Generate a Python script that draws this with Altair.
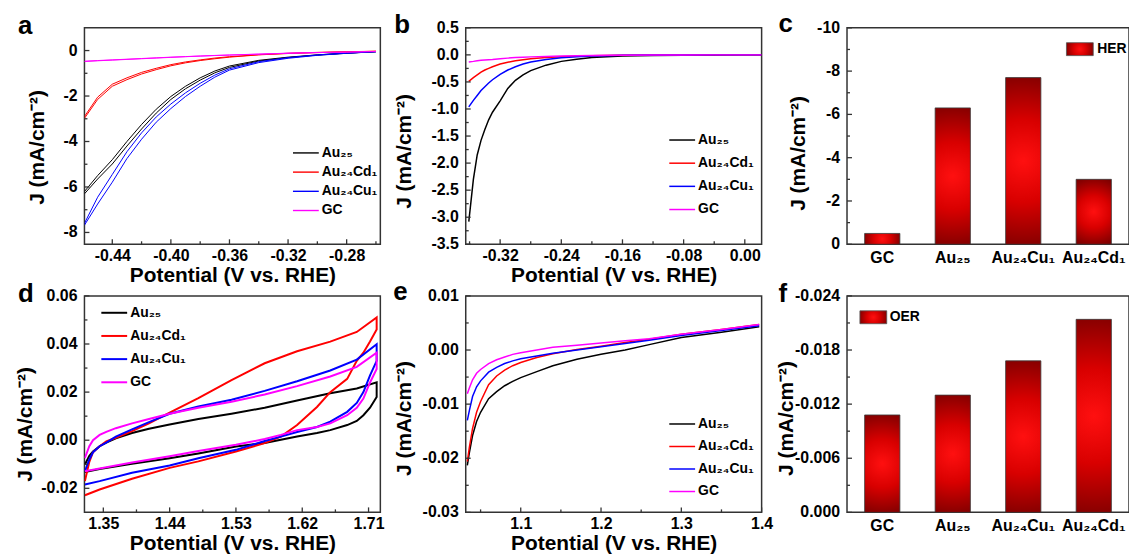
import altair as alt
import pandas as pd

FONT = "Liberation Sans"
FRAME = "#333333"
NAMES = ["Au₂₅", "Au₂₄Cd₁", "Au₂₄Cu₁", "GC"]
COLORS = ["#000000", "#ff0000", "#0000ff", "#ff00ff"]
YTITLE = "J (mA/cm⁻²)"
XTITLE = "Potential (V vs. RHE)"
LETTERS = ["a", "b", "c", "d", "e", "f"]

# ---------------- panel a : HER polarisation (two sweeps each) ----------------
a_x = [-0.459, -0.45, -0.44, -0.43, -0.42, -0.41, -0.40, -0.39, -0.38, -0.37, -0.36, -0.34, -0.32, -0.30, -0.28, -0.26]
a_au25_1 = [-6.3, -5.65, -4.99, -4.2, -3.45, -2.75, -2.15, -1.68, -1.3, -0.98, -0.74, -0.46, -0.31, -0.2, -0.12, -0.05]
a_au25_2 = [-6.2, -5.5, -4.8, -4.0, -3.25, -2.58, -2.02, -1.57, -1.2, -0.9, -0.68, -0.43, -0.29, -0.19, -0.11, -0.05]
a_cd_1 = [-2.98, -2.15, -1.57, -1.28, -1.03, -0.84, -0.67, -0.54, -0.44, -0.36, -0.29, -0.19, -0.13, -0.09, -0.06, -0.03]
a_cd_2 = [-2.9, -2.05, -1.48, -1.2, -0.96, -0.78, -0.62, -0.5, -0.41, -0.33, -0.27, -0.18, -0.12, -0.08, -0.05, -0.03]
a_cu_1 = [-7.68, -6.75, -5.79, -4.75, -3.90, -3.15, -2.55, -2.02, -1.57, -1.17, -0.86, -0.53, -0.34, -0.21, -0.12, -0.05]
a_cu_2 = [-7.6, -6.45, -5.45, -4.45, -3.62, -2.92, -2.35, -1.86, -1.44, -1.08, -0.80, -0.49, -0.31, -0.19, -0.11, -0.05]
a_gc_1 = [-0.48, -0.45, -0.42, -0.39, -0.36, -0.33, -0.30, -0.27, -0.245, -0.22, -0.2, -0.16, -0.12, -0.09, -0.07, -0.04]
a_gc_2 = [-0.47, -0.44, -0.41, -0.38, -0.35, -0.32, -0.29, -0.265, -0.24, -0.215, -0.195, -0.155, -0.115, -0.085, -0.065, -0.04]

# ---------------- panel b : HER LSV ----------------
b_x = [-0.361, -0.355, -0.35, -0.345, -0.34, -0.335, -0.33, -0.32, -0.31, -0.30, -0.29, -0.28,
       -0.26, -0.24, -0.22, -0.20, -0.18, -0.16, -0.12, -0.08, -0.04, 0.0, 0.022]
b_au25 = [-3.08, -2.3, -1.85, -1.58, -1.38, -1.2, -1.06, -0.85, -0.62, -0.47, -0.37, -0.29,
          -0.19, -0.12, -0.08, -0.05, -0.035, -0.02, -0.01, -0.005, -0.002, 0.0, 0.0]
b_cd = [-0.49, -0.42, -0.37, -0.32, -0.28, -0.25, -0.22, -0.17, -0.135, -0.11, -0.09, -0.07,
        -0.05, -0.035, -0.025, -0.018, -0.012, -0.008, -0.004, -0.002, 0.0, 0.0, 0.0]
b_cu = [-0.96, -0.84, -0.75, -0.66, -0.59, -0.52, -0.46, -0.36, -0.28, -0.22, -0.17, -0.13,
        -0.085, -0.055, -0.035, -0.022, -0.014, -0.008, -0.004, -0.002, 0.0, 0.0, 0.0]
b_gc = [-0.13, -0.12, -0.11, -0.10, -0.095, -0.09, -0.085, -0.07, -0.06, -0.05, -0.043, -0.037,
        -0.028, -0.02, -0.015, -0.01, -0.007, -0.005, -0.003, -0.001, 0.0, 0.0, 0.0]

# ---------------- panel c : HER bars ----------------
c_cats = ["GC", "Au₂₅", "Au₂₄Cu₁", "Au₂₄Cd₁"]
c_vals = [-0.5, -6.3, -7.7, -3.0]

# ---------------- panel d : CV loops ----------------
d_xu = [1.325, 1.331, 1.336, 1.345, 1.354, 1.367, 1.389, 1.412, 1.44, 1.479, 1.524, 1.569, 1.613, 1.658, 1.694, 1.721]
d_xl = [1.721, 1.712, 1.703, 1.694, 1.681, 1.658, 1.640, 1.613, 1.591, 1.569, 1.53, 1.479, 1.44, 1.389, 1.345, 1.325]
d_au25_u = [-0.0101, -0.0065, -0.0047, -0.0025, -0.001, 0.0008, 0.003, 0.0048, 0.0065, 0.0088, 0.011, 0.0135, 0.0165, 0.0195, 0.0215, 0.0241]
d_au25_l = [0.018, 0.0135, 0.0104, 0.008, 0.0063, 0.0042, 0.003, 0.0015, 0.0002, -0.0012, -0.0026, -0.0055, -0.0075, -0.0098, -0.012, -0.0132]
d_cd_u = [-0.017, -0.009, -0.005, -0.0025, -0.0005, 0.001, 0.0038, 0.007, 0.0115, 0.0175, 0.025, 0.032, 0.037, 0.041, 0.045, 0.051]
d_cd_l = [0.046, 0.041, 0.0364, 0.033, 0.0255, 0.020, 0.0138, 0.0063, 0.0015, -0.0012, -0.0047, -0.0088, -0.0115, -0.016, -0.0205, -0.0229]
d_cu_u = [-0.0129, -0.008, -0.005, -0.0025, -0.001, 0.0015, 0.0045, 0.0075, 0.011, 0.014, 0.0168, 0.0205, 0.0245, 0.029, 0.0335, 0.0399]
d_cu_l = [0.033, 0.027, 0.020, 0.0155, 0.0118, 0.0077, 0.0055, 0.0034, 0.0015, -0.0003, -0.004, -0.0075, -0.0105, -0.0135, -0.017, -0.0184]
d_gc_u = [-0.0074, -0.0025, 0.0, 0.0022, 0.0035, 0.005, 0.007, 0.0088, 0.011, 0.0135, 0.016, 0.019, 0.0225, 0.0265, 0.0305, 0.0364]
d_gc_l = [0.0296, 0.024, 0.0173, 0.0135, 0.0104, 0.007, 0.0055, 0.0042, 0.0022, 0.0005, -0.0019, -0.0045, -0.0067, -0.0093, -0.0118, -0.0129]

# ---------------- panel e : OER LSV ----------------
e_x = [1.0335, 1.036, 1.04, 1.045, 1.05, 1.06, 1.07, 1.08, 1.09, 1.1, 1.12, 1.14, 1.17, 1.2, 1.23, 1.26, 1.3, 1.35, 1.397]
e_au25 = [-0.0213, -0.019, -0.0158, -0.0132, -0.0115, -0.009, -0.0077, -0.0066, -0.0058, -0.0051, -0.004, -0.0029,
          -0.0017, -0.0008, 0.0, 0.001, 0.0023, 0.0033, 0.0043]
e_cd = [-0.0206, -0.018, -0.0145, -0.0115, -0.0095, -0.0064, -0.0048, -0.0037, -0.0029, -0.0023, -0.0014, -0.0007,
        0.0001, 0.0007, 0.0014, 0.002, 0.0029, 0.0038, 0.0047]
e_cu = [-0.013, -0.0112, -0.0086, -0.0068, -0.0057, -0.0041, -0.0032, -0.0025, -0.002, -0.0016, -0.0011, -0.0006,
        0.0, 0.0006, 0.0012, 0.0018, 0.0027, 0.0036, 0.0045]
e_gc = [-0.0081, -0.007, -0.0055, -0.0043, -0.0036, -0.0025, -0.0018, -0.0013, -0.0008, -0.0005, 0.0, 0.0005,
        0.0009, 0.0013, 0.0017, 0.0021, 0.0029, 0.0038, 0.0047]

# ---------------- panel f : OER bars ----------------
f_cats = ["GC", "Au₂₅", "Au₂₄Cu₁", "Au₂₄Cd₁"]
f_vals = [-0.0108, -0.0130, -0.0168, -0.0214]

# ---------------- axis ticks ----------------
a_xt, a_xm = [-0.44, -0.40, -0.36, -0.32, -0.28], [-0.42, -0.38, -0.34, -0.30, -0.26]
a_yt, a_ym = [0, -2, -4, -6, -8], [-1, -3, -5, -7]
b_xt, b_xm = [-0.32, -0.24, -0.16, -0.08, 0.0], [-0.36, -0.28, -0.20, -0.12, -0.04]
b_yt = [0.5, 0.0, -0.5, -1.0, -1.5, -2.0, -2.5, -3.0, -3.5]
b_ym = [0.25, -0.25, -0.75, -1.25, -1.75, -2.25, -2.75, -3.25]
c_yt, c_ym = [0, -2, -4, -6, -8, -10], [-1, -3, -5, -7, -9]
d_xt, d_xm = [1.35, 1.44, 1.53, 1.62, 1.71], [1.395, 1.485, 1.575, 1.665]
d_yt, d_ym = [0.06, 0.04, 0.02, 0.0, -0.02], [0.05, 0.03, 0.01, -0.01]
e_xt, e_xm = [1.1, 1.2, 1.3, 1.4], [1.05, 1.15, 1.25, 1.35]
e_yt, e_ym = [0.01, 0.0, -0.01, -0.02, -0.03], [0.005, -0.005, -0.015, -0.025]
f_yt, f_ym = [0.0, -0.006, -0.012, -0.018, -0.024], [-0.003, -0.009, -0.015, -0.021]

W, H = 298, 218
WB = 284  # bar panels (right part falls outside the page, as in the original)
GRAD = {"gradient": "radial", "x1": 0.5, "y1": 0.5, "r1": 0, "x2": 0.5, "y2": 0.5, "r2": 0.55,
        "stops": [{"offset": 0, "color": "#ff1010"}, {"offset": 0.45, "color": "#d80000"},
                  {"offset": 1, "color": "#7a0000"}]}


def frame(parts_by_series):
    rows = []
    for name, parts in parts_by_series:
        o = 0
        for xs, ys in parts:
            for x, y in zip(xs, ys):
                rows.append({"x": x, "y": y, "s": name, "o": o})
                o += 1
    return pd.DataFrame(rows)


def x_axis(values, fmt):
    return alt.Axis(values=values, format=fmt, title=XTITLE, titleY=20, titleBaseline="top",
                    labelPadding=3, labelOverlap=False, labelFlush=False)


def y_axis(values, tx, ty):
    # labels are drawn by a text layer (y_labels) so that none get dropped
    return alt.Axis(values=values, labels=False, title=YTITLE, titleX=tx, titleY=ty,
                    titleBaseline="middle")


def y_labels(vals, yscale, fmt):
    return alt.Chart(pd.DataFrame({"y": vals})).mark_text(
        font=FONT, fontSize=16, fontWeight="bold", align="right", baseline="middle", color="black"
    ).encode(y=alt.Y("y:Q", scale=yscale), x=alt.value(-7), text=alt.Text("y:Q", format=fmt))


def y_ticks(vals, yscale, length):
    return alt.Chart(pd.DataFrame({"y": vals})).mark_rule(color=FRAME, strokeWidth=1.3).encode(
        y=alt.Y("y:Q", scale=yscale), x=alt.value(0), x2=alt.value(length))


def x_ticks(vals, xscale, length):
    return alt.Chart(pd.DataFrame({"x": vals})).mark_rule(color=FRAME, strokeWidth=1.3).encode(
        x=alt.X("x:Q", scale=xscale), y=alt.value(H), y2=alt.value(H - length))


def letter(t, dx, dy):
    return alt.Chart(pd.DataFrame({"t": [t]})).mark_text(
        font=FONT, fontSize=26, fontWeight="bold", align="left", baseline="alphabetic", color="black"
    ).encode(text="t:N", x=alt.value(dx), y=alt.value(dy))


def line_panel(df, xdom, ydom, xt, xm, yt, ym, xfmt, yfmt, sw, let, ldx, ldy, tx, ty,
               lx, ly0, ly1):
    xs = alt.Scale(domain=xdom, nice=False, zero=False)
    ys = alt.Scale(domain=ydom, nice=False, zero=False)
    cs = alt.Scale(domain=NAMES, range=COLORS)
    lines = alt.Chart(df).mark_line(strokeWidth=sw, clip=True).encode(
        x=alt.X("x:Q", scale=xs, axis=x_axis(xt, xfmt)),
        y=alt.Y("y:Q", scale=ys, axis=y_axis(yt, tx, ty)),
        color=alt.Color("s:N", scale=cs, legend=None),
        order=alt.Order("o:Q"),
    )
    inner = alt.layer(lines, y_labels(yt, ys, yfmt), y_ticks(yt, ys, 5), y_ticks(ym, ys, 3),
                      x_ticks(xt, xs, 5), x_ticks(xm, xs, 3), letter(let, ldx, ldy))
    leg = pd.DataFrame({"s": NAMES, "r": [0, 1, 2, 3]})
    ls = alt.Scale(domain=[0, 3], range=[ly0, ly1])
    leg_l = alt.Chart(leg).mark_rule(strokeWidth=max(sw, 1.4)).encode(
        x=alt.value(lx), x2=alt.value(lx + 26), y=alt.Y("r:Q", scale=ls, axis=None),
        color=alt.Color("s:N", scale=cs, legend=None))
    leg_t = alt.Chart(leg).mark_text(font=FONT, fontSize=14, fontWeight="bold", align="left",
                                     baseline="middle", color="black").encode(
        x=alt.value(lx + 29), y=alt.Y("r:Q", scale=ls, axis=None), text="s:N")
    return alt.layer(inner, alt.layer(leg_l, leg_t)).resolve_scale(y="independent").properties(width=W, height=H)


def bar_panel(cats, vals, ydom, yt, ym, yfmt, let, ldx, ldy, tx, ty, name, sx, tx_name):
    ys = alt.Scale(domain=ydom, nice=False, zero=False)
    df = pd.DataFrame({"c": cats, "y": vals})
    bars = alt.Chart(df).mark_bar(fill=GRAD, stroke="#3a3a3a", strokeWidth=0.8).encode(
        x=alt.X("c:N", sort=cats, scale=alt.Scale(paddingInner=0.5, paddingOuter=0.25),
                axis=alt.Axis(title=None, labelAngle=0, labelFontSize=16, labelPadding=5, labelOverlap=False)),
        y=alt.Y("y:Q", scale=ys, axis=y_axis(yt, tx, ty)),
        y2=alt.datum(0),
    )
    key = pd.DataFrame({"n": [name]})
    sw_ = alt.Chart(key).mark_rect(fill=GRAD, stroke="#555555", strokeWidth=0.8).encode(
        x=alt.value(sx), x2=alt.value(sx + 27), y=alt.value(15), y2=alt.value(28))
    st = alt.Chart(key).mark_text(font=FONT, fontSize=14, fontWeight="bold", align="left",
                                  baseline="middle", color="black").encode(
        text="n:N", x=alt.value(tx_name), y=alt.value(21.5))
    return alt.layer(bars, y_labels(yt, ys, yfmt), y_ticks(yt, ys, 5), y_ticks(ym, ys, 3), sw_, st,
                     letter(let, ldx, ldy)).properties(width=WB, height=H)


df_a = frame([
    (NAMES[0], [(a_x, a_au25_1), (a_x[::-1], a_au25_2[::-1])]),
    (NAMES[1], [(a_x, a_cd_1), (a_x[::-1], a_cd_2[::-1])]),
    (NAMES[2], [(a_x, a_cu_1), (a_x[::-1], a_cu_2[::-1])]),
    (NAMES[3], [(a_x, a_gc_1), (a_x[::-1], a_gc_2[::-1])]),
])
df_b = frame([(NAMES[0], [(b_x, b_au25)]), (NAMES[1], [(b_x, b_cd)]),
              (NAMES[2], [(b_x, b_cu)]), (NAMES[3], [(b_x, b_gc)])])
df_d = frame([
    (NAMES[0], [(d_xu, d_au25_u), (d_xl, d_au25_l)]),
    (NAMES[1], [(d_xu, d_cd_u), (d_xl, d_cd_l)]),
    (NAMES[2], [(d_xu, d_cu_u), (d_xl, d_cu_l)]),
    (NAMES[3], [(d_xu, d_gc_u), (d_xl, d_gc_l)]),
])
df_e = frame([(NAMES[0], [(e_x, e_au25)]), (NAMES[1], [(e_x, e_cd)]),
              (NAMES[2], [(e_x, e_cu)]), (NAMES[3], [(e_x, e_gc)])])

pa = line_panel(df_a, [-0.459, -0.257], [-8.52, 1.0], a_xt, a_xm, a_yt, a_ym, ".2f", "d", 1.0,
                LETTERS[0], -67, 6, -47, 120, 210, 126, 184)
pb = line_panel(df_b, [-0.365, 0.022], [-3.5, 0.5], b_xt, b_xm, b_yt, b_ym, ".2f", ".1f", 1.5,
                LETTERS[1], -72, 5, -62, 124, 205, 113, 183)
pc = bar_panel(c_cats, c_vals, [0, -10], c_yt, c_ym, "d", LETTERS[2], -69, 4, -49, 126, "HER", 221, 252)
pd_ = line_panel(df_d, [1.3244, 1.726], [-0.03, 0.06], d_xt, d_xm, d_yt, d_ym, ".2f", ".2f", 2.0,
                 LETTERS[3], -67, 6, -59, 129, 17, 17, 87)
pe = line_panel(df_e, [1.0315, 1.4], [-0.03, 0.01], e_xt, e_xm, e_yt, e_ym, ".1f", ".2f", 1.5,
                LETTERS[4], -73, 4, -62, 123, 205, 129, 197)
pf = bar_panel(f_cats, f_vals, [0, -0.024], f_yt, f_ym, ".3f", LETTERS[5], -69, 6, -61, 123, "OER", 13, 43)

chart = alt.concat(pa, pb, pc, pd_, pe, pf, columns=3, spacing={"row": 52, "column": 86},
                   bounds="flush").properties(
    autosize=alt.AutoSizeParams(type="none"),
    padding={"left": 77, "top": 18, "right": 1052, "bottom": 531},
    background="white",
)

chart = chart.configure(
    locale={"number": {"decimal": ".", "thousands": ",", "grouping": [3], "currency": ["$", ""], "minus": "-"}}
).configure_view(stroke=FRAME, strokeWidth=1.5).configure_axis(
    domain=False, ticks=False, tickSize=0, grid=False, labelFlush=False, labelOverlap=False,
    labelFont=FONT, labelFontSize=16, labelFontWeight="bold", labelColor="black",
    titleFont=FONT, titleFontSize=21, titleFontWeight="bold", titleColor="black",
)

chart.save("out.html", embed_options={"renderer": "svg", "actions": False})
